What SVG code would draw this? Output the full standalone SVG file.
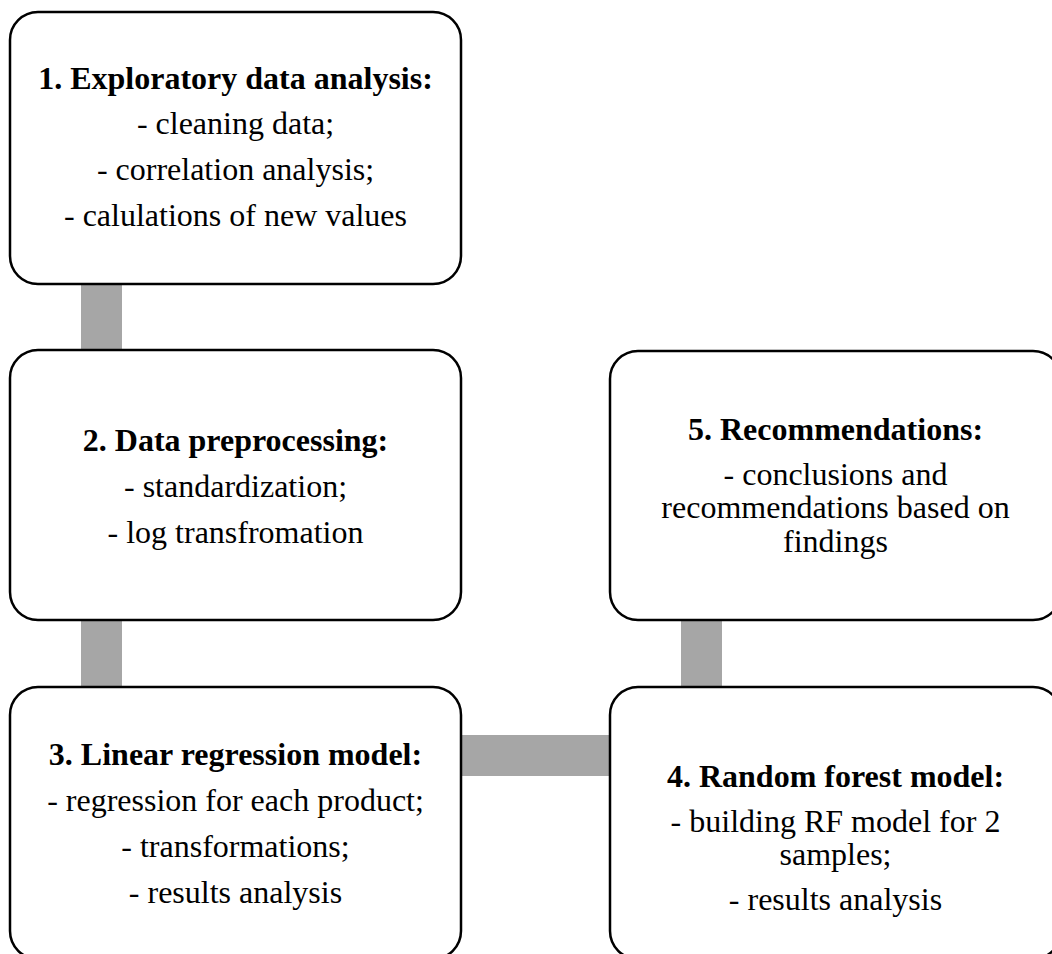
<svg xmlns="http://www.w3.org/2000/svg" width="1052" height="954" viewBox="0 0 1052 954">
<style>
.box{fill:#ffffff;stroke:#000000;stroke-width:2.5}
.conn{fill:#a6a6a6;stroke:none}
text{font-family:"Liberation Serif","Times New Roman",serif;font-size:32px;fill:#000000;text-anchor:middle}
.t{font-weight:bold}
</style>
<rect width="1052" height="954" fill="#ffffff"/>
<g id="connectors">
<rect class="conn" x="81" y="283" width="41" height="68"/>
<rect class="conn" x="81" y="619" width="41" height="69"/>
<rect class="conn" x="460" y="735" width="151" height="41"/>
<rect class="conn" x="681" y="619" width="41" height="69"/>
</g>
<g id="node1">
<rect class="box" x="10" y="12" width="451" height="272" rx="28" ry="28"/>
<text class="t" x="235.5" y="89">1. Exploratory data analysis:</text>
<text x="235.5" y="134">- cleaning data;</text>
<text x="235.5" y="180">- correlation analysis;</text>
<text x="235.5" y="226">- calulations of new values</text>
</g>
<g id="node2">
<rect class="box" x="10" y="350" width="451" height="270" rx="28" ry="28"/>
<text class="t" x="235.5" y="451">2. Data preprocessing:</text>
<text x="235.5" y="497">- standardization;</text>
<text x="235.5" y="543">- log transfromation</text>
</g>
<g id="node3">
<rect class="box" x="10" y="687" width="451" height="272" rx="28" ry="28"/>
<text class="t" x="235.5" y="765">3. Linear regression model:</text>
<text x="235.5" y="811">- regression for each product;</text>
<text x="235.5" y="857">- transformations;</text>
<text x="235.5" y="903">- results analysis</text>
</g>
<g id="node4">
<rect class="box" x="610" y="687" width="451" height="272" rx="28" ry="28"/>
<text class="t" x="835.5" y="787">4. Random forest model:</text>
<text x="835.5" y="832">- building RF model for 2</text>
<text x="835.5" y="865">samples;</text>
<text x="835.5" y="910">- results analysis</text>
</g>
<g id="node5">
<rect class="box" x="610" y="351" width="451" height="269" rx="28" ry="28"/>
<text class="t" x="835.5" y="440">5. Recommendations:</text>
<text x="835.5" y="485">- conclusions and</text>
<text x="835.5" y="518">recommendations based on</text>
<text x="835.5" y="552">findings</text>
</g>
</svg>
